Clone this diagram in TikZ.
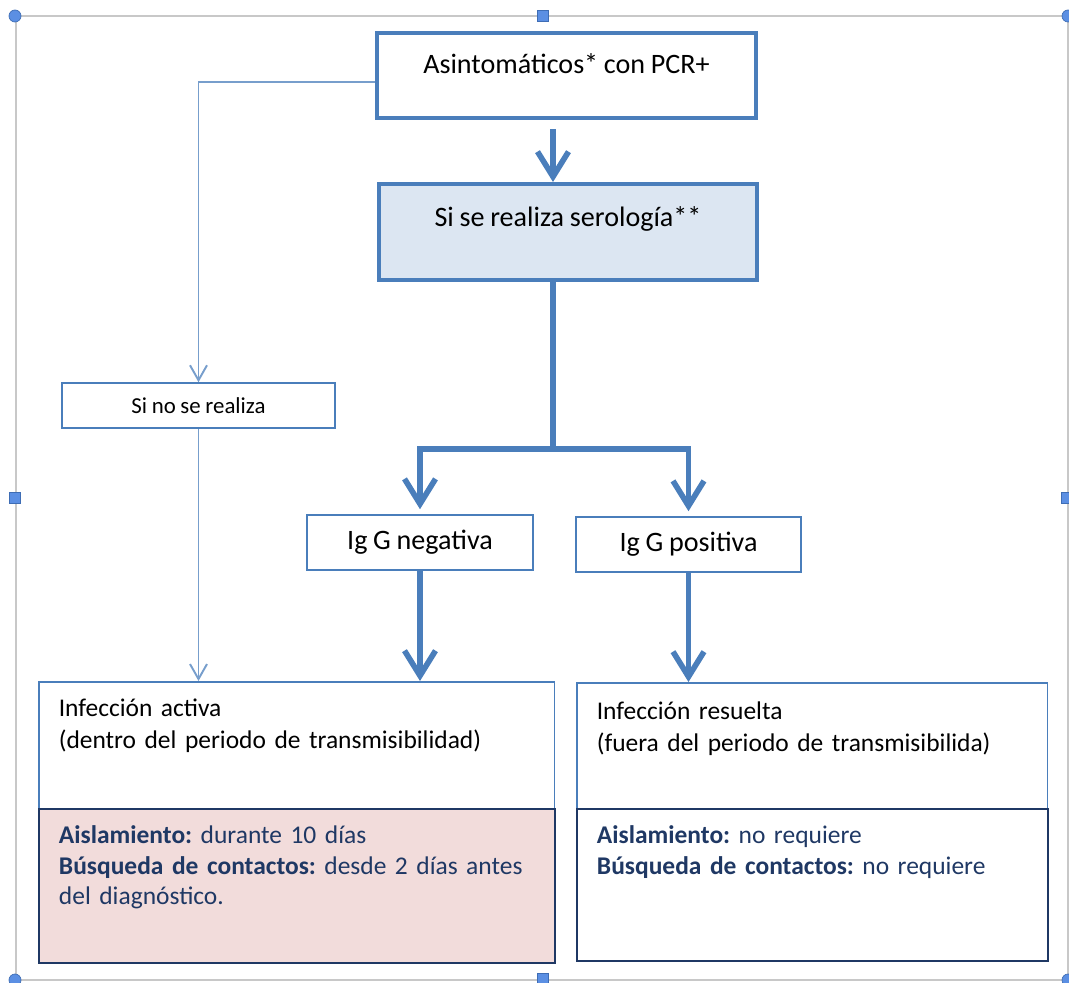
\documentclass[tikz,border=0pt]{standalone}
\usepackage{fontspec}
\setmainfont{Carlito}[WordSpace=0.9]
\frenchspacing
\usepackage{tikz}
\usetikzlibrary{arrows.meta,calc}
\definecolor{frame}{HTML}{C8C8C8}
\definecolor{handle}{HTML}{5B8FE3}
\definecolor{handleline}{HTML}{3E6DB5}
\definecolor{accent}{HTML}{4A7EBB}
\definecolor{navy}{HTML}{1F3864}
\definecolor{serofill}{HTML}{DCE6F2}
\definecolor{pinkfill}{HTML}{F2DCDB}
\tikzset{
  fatbox/.style={draw=accent, line width=2.3pt, inner sep=0pt, align=center, font=\fontsize{16}{19}\selectfont},
  slimbox/.style={draw=accent, line width=0.9pt, inner sep=0pt, align=center, font=\fontsize{16}{19}\selectfont},
  headbox/.style={draw=accent, line width=0.9pt, inner xsep=0.4cm, inner ysep=0pt, align=left, anchor=north west, font=\fontsize{14.5}{18.2}\selectfont},
  infobox/.style={draw=navy, line width=1.1pt, inner xsep=0.4cm, inner ysep=0pt, align=left, anchor=north west, text=navy, font=\fontsize{14.5}{17.3}\selectfont},
  fat/.style={draw=accent, line width=3.2pt},
  fatarr/.style={fat, -{Straight Barb[length=0.5cm, width=0.62cm]}},
  slim/.style={draw=accent!75, line width=1.1pt},
  slimarr/.style={slim, -{Straight Barb[length=0.3cm, width=0.34cm]}},
  frm/.style={draw=frame, line width=1.2pt},
  knob/.style={circle, fill=handle, draw=handleline, line width=0.4pt, inner sep=0pt, minimum size=0.24cm},
  knobsq/.style={rectangle, fill=handle, draw=handleline, line width=0.4pt, inner sep=0pt, minimum size=0.22cm},
}

\begin{document}
\begin{tikzpicture}[x=0.02cm, y=-0.02cm]
  \useasboundingbox (0,0) rectangle (1069,983);

  % selection frame
  \draw[frm] (16,16) rectangle (1068,980);
  \foreach \p/\n in {(15,16)/a, (1068,16)/b, (15,980)/c, (1068,980)/d}
    \node[knob] (k\n) at \p {};
  \foreach \p/\n in {(543,16)/e, (15,498)/f, (1067,498)/g, (543,979)/h}
    \node[knobsq] (k\n) at \p {};

  \coordinate (fork) at (553,449);

  \node[fatbox, minimum width=7.58cm, text height=0.82cm, text depth=0.88cm] (asinto) at (566.5,75.5) {Asintomáticos* con PCR+};
  \node[fatbox, fill=serofill, minimum width=7.56cm, text height=0.84cm, text depth=1.08cm] (sero) at (568,232) {Si se realiza serología**};

  \node[slimbox, minimum width=5.46cm, minimum height=0.9cm, font=\fontsize{13}{15}\selectfont] (norealiza) at (198.5,405.5) {Si no se realiza};
  \node[slimbox, minimum width=4.52cm, minimum height=1.1cm] (neg) at (420,542.5) {Ig G negativa};
  \node[slimbox, minimum width=4.5cm, minimum height=1.1cm] (pos) at (688.5,544.5) {Ig G positiva};

  \node[headbox, minimum width=10.32cm, text width=9.52cm, text height=0.7cm, text depth=1.84cm] (activa) at (38,681)
    {Infección activa\\(dentro del periodo de transmisibilidad)};
  \node[infobox, fill=pinkfill, minimum width=10.32cm, text width=9.52cm, text height=0.7cm, text depth=2.38cm] (activainfo) at (38,808)
    {\textbf{Aislamiento:} durante 10 días\\\textbf{Búsqueda de contactos:} desde 2 días antes\\del diagnóstico.};

  \node[headbox, minimum width=9.42cm, text width=8.62cm, text height=0.74cm, text depth=1.78cm] (resuelta) at (576,682)
    {Infección resuelta\\(fuera del periodo de transmisibilida)};
  \node[infobox, minimum width=9.42cm, text width=8.62cm, text height=0.7cm, text depth=2.34cm] (resueltainfo) at (576,808)
    {\textbf{Aislamiento:} no requiere\\\textbf{Búsqueda de contactos:} no requiere};

  % connectors
  \draw[slimarr] ([yshift=-0.13cm]asinto.west) -| (norealiza.north);
  \draw[slimarr] (norealiza.south) -- (norealiza.south |- activa.north);

  \draw[fatarr, shorten <=0.18cm] (asinto.south -| fork) -- (sero.north -| fork);
  \draw[fat] (sero.south -| fork) -- (fork);
  \draw[fatarr, shorten >=0.1cm] (fork) -| (neg.north);
  \draw[fatarr, shorten >=0.1cm] (fork) -| (pos.north);

  \draw[fatarr] (neg.south) -- (neg.south |- activa.north);
  \draw[fatarr] (pos.south) -- (pos.south |- resuelta.north);
\end{tikzpicture}
\end{document}
